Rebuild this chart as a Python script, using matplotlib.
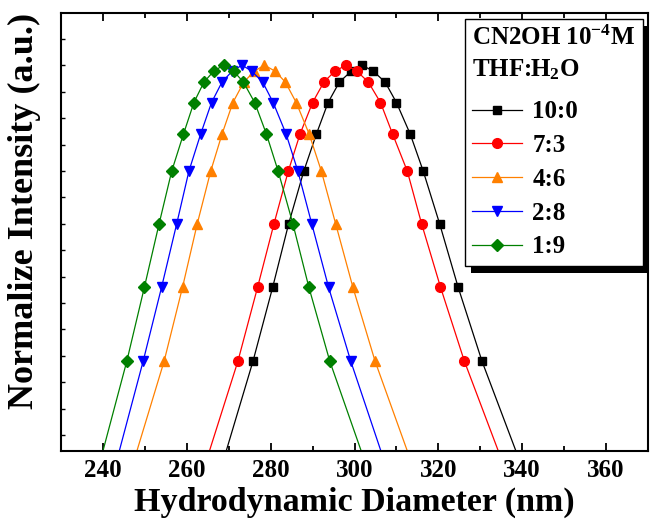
import numpy as np
import matplotlib
matplotlib.use("Agg")
import matplotlib.pyplot as plt
from matplotlib.patches import Rectangle
from matplotlib.ticker import MultipleLocator
from matplotlib.transforms import IdentityTransform
from matplotlib import font_manager, patheffects

plt.rcParams['font.family'] = ['Liberation Serif', 'DejaVu Serif']
plt.rcParams['font.weight'] = 'bold'
plt.rcParams['mathtext.fontset'] = 'custom'
plt.rcParams['mathtext.rm'] = 'Liberation Serif:bold'
plt.rcParams['mathtext.it'] = 'Liberation Serif:bold'
plt.rcParams['mathtext.bf'] = 'Liberation Serif:bold'
plt.rcParams['mathtext.default'] = 'rm'

# normalized intensity, same levels for every ratio
intensity = [0.0, 0.233, 0.425, 0.589, 0.725, 0.821, 0.903, 0.956, 0.984, 1.0,
             0.984, 0.956, 0.903, 0.821, 0.725, 0.589, 0.425, 0.233, 0.0]

# hydrodynamic diameter (nm) per THF:H2O ratio
d_10_0 = [269.4, 275.8, 280.5, 284.3, 287.9, 290.9, 293.7, 296.4, 299.2, 301.8,
          304.5, 307.3, 310.0, 313.3, 316.4, 320.3, 324.7, 330.4, 338.5]
d_7_3 = [265.4, 272.2, 276.9, 280.8, 284.2, 287.0, 290.0, 292.7, 295.3, 298.0,
         300.6, 303.3, 306.2, 309.1, 312.6, 316.0, 320.5, 326.2, 334.3]
d_4_6 = [248.1, 254.6, 259.0, 262.5, 265.7, 268.4, 271.0, 273.6, 276.1, 278.5,
         281.1, 283.5, 286.1, 289.2, 292.1, 295.5, 299.6, 304.9, 312.6]
d_2_8 = [243.9, 249.6, 254.0, 257.6, 260.5, 263.3, 265.9, 268.4, 270.8, 273.2,
         275.5, 278.1, 280.6, 283.7, 286.5, 289.8, 293.8, 299.1, 306.3]
d_1_9 = [240.0, 245.7, 249.9, 253.4, 256.4, 259.2, 261.7, 264.1, 266.4, 268.8,
         271.2, 273.5, 276.2, 279.0, 281.8, 285.3, 289.1, 294.1, 301.6]

labels = ['10:0', '7:3', '4:6', '2:8', '1:9']
series = [d_10_0, d_7_3, d_4_6, d_2_8, d_1_9]
colors = ['black', '#ff0000', '#ff8000', '#0000ff', '#008000']
markers = ['s', 'o', '^', 'v', 'D']
msizes = [6, 7, 7.5, 7.5, 6.5]

# if no real bold face is installed, thicken the glyphs with a thin stroke
bold_file = font_manager.findfont(
    font_manager.FontProperties(family='Liberation Serif', weight='bold'))
if 'bold' in bold_file.lower():
    fx = []
else:
    fx = [patheffects.withStroke(linewidth=1.1, foreground='black')]

fig = plt.figure(figsize=(6.5, 5.27), dpi=100)
ax = fig.add_axes([61 / 650, 76 / 527, 587 / 650, 438 / 527])

for x, lab, c, m, ms in zip(series, labels, colors, markers, msizes):
    ax.plot(x, intensity, color=c, lw=0.9, marker=m, ms=ms, mec=c, mfc=c,
            markevery=slice(1, -1), label=lab)

ax.set_xlim(230, 370)
ax.set_ylim(0, 1.135)
ax.xaxis.set_major_locator(MultipleLocator(20))
ax.xaxis.set_minor_locator(MultipleLocator(10))
ax.set_yticks(0.0415 + 0.0684 * np.arange(16))
ax.set_yticklabels([])

for s in ax.spines.values():
    s.set_linewidth(1.5)
ax.tick_params(axis='x', which='major', direction='in', top=True, length=6,
               width=1.3, labelsize=18, pad=6)
ax.tick_params(axis='x', which='minor', direction='in', top=True, length=3.5,
               width=1.3)
ax.tick_params(axis='y', direction='in', length=3, width=1.0)
for t in ax.get_xticklabels():
    t.set_fontweight('bold')
    t.set_path_effects(fx)

xl = ax.set_xlabel('Hydrodynamic Diameter (nm)', fontsize=24.5,
                   fontweight='bold', labelpad=3)
yl = ax.set_ylabel('Normalize Intensity (a.u.)', fontsize=26,
                   fontweight='bold')
ax.yaxis.set_label_coords(-0.034, 0.548)
xl.set_path_effects(fx)
yl.set_path_effects(fx)

leg = ax.legend(loc='upper right', bbox_to_anchor=(0.9915, 0.987), borderaxespad=0,
                title='CN2OH 10$^{-4}$M\nTHF:H$_2$O', alignment='left',
                prop={'size': 18, 'weight': 'bold'},
                title_fontproperties={'size': 18, 'weight': 'bold'},
                frameon=True, fancybox=False, edgecolor='black', framealpha=1,
                handlelength=2.0, handletextpad=0.4, labelspacing=0.43,
                borderpad=0.3)
leg.get_frame().set_linewidth(1.0)
leg.get_title().set_linespacing(1.35)
leg._legend_box.sep = 13.5  # a bit more room between title and entries
leg.set_zorder(5)
for t in leg.get_texts() + [leg.get_title()]:
    t.set_path_effects(fx)

# solid black drop shadow behind the legend box
fig.canvas.draw()
bb = leg.get_window_extent()
shadow = Rectangle((bb.x0 + 6, bb.y0 - 7), bb.width, bb.height,
                   facecolor='black', edgecolor='none', zorder=4)
shadow.set_transform(IdentityTransform())
shadow.set_clip_on(False)
ax.add_artist(shadow)

fig.savefig('out.png', dpi=100)
